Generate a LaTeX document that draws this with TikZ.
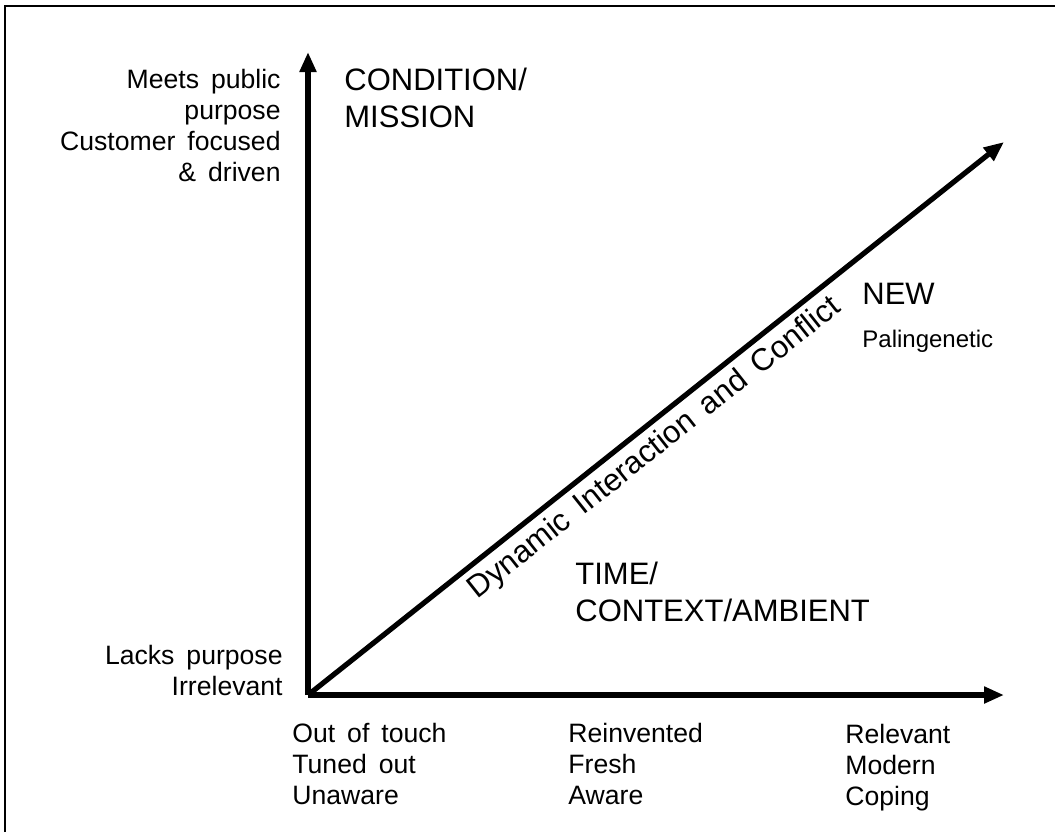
\documentclass[tikz,border=0pt]{standalone}
\usepackage{fontspec}
\setmainfont{Liberation Sans}
\usetikzlibrary{arrows.meta}
\usetikzlibrary{positioning}
\newcommand\widesp{\spaceskip=0.45em\relax}

\begin{document}
\begin{tikzpicture}[
    x=0.5pt, y=-0.5pt,
    font=\fontsize{13}{15}\selectfont
]
\tikzset{
    axisline/.style = {line width=3.3pt, -{Triangle[length=10pt,width=8pt]}},
    diagline/.style = {line width=2.6pt, -{Triangle[length=10pt,width=8pt]}},
    ticklabel/.style = {inner sep=0pt, font=\fontsize{13.3}{15.5}\selectfont\widesp},
    biglabel/.style = {inner sep=0pt, align=left, font=\fontsize{15.5}{18.5}\selectfont\widesp}
}
\useasboundingbox (0,0) rectangle (1055,832);
\draw[line width=0.8pt] (5,832) -- (5,6) -- (1055,6);
\coordinate (o) at (308,695);
\coordinate (ytip) at (308,52);
\coordinate (xtip) at (1004,695);
\coordinate (dtip) at (1004,142);
\draw[axisline] (o) -- (ytip);
\draw[axisline] (o) -- (xtip);
\draw[diagline] (o) -- node[sloped, below=3pt, pos=0.478, inner sep=0pt,
    font=\fontsize{15.6}{18}\selectfont\widesp]
    (conflict) {Dynamic Interaction and Conflict} (dtip);
% axis labels
\node[ticklabel, align=right, anchor=north east] (top) at (281,69)
    {Meets public\\purpose\\Customer focused\\\& driven};
\node[ticklabel, align=right, anchor=north east] (low) at (283,645)
    {Lacks purpose\\Irrelevant};
\node[ticklabel, align=left, anchor=north west] (out) at (292,723)
    {Out of touch\\Tuned out\\Unaware};
\node[ticklabel, align=left, anchor=north west] (mid) at (568,723)
    {Reinvented\\Fresh\\Aware};
\node[ticklabel, align=left, anchor=north west] (rel) at (845,724)
    {Relevant\\Modern\\Coping};
% dimensions
\node[biglabel, anchor=north west] (mission) at (344,68) {CONDITION/\\MISSION};
\node[biglabel, anchor=north west] (time) at (575,562) {TIME/\\CONTEXT/AMBIENT};
\node[biglabel, anchor=north west] (new) at (862,283) {NEW};
\node[ticklabel, font=\fontsize{12}{14}\selectfont, below=12.5pt of new.south west,
    anchor=north west] (paling) {Palingenetic};
\end{tikzpicture}
\end{document}
